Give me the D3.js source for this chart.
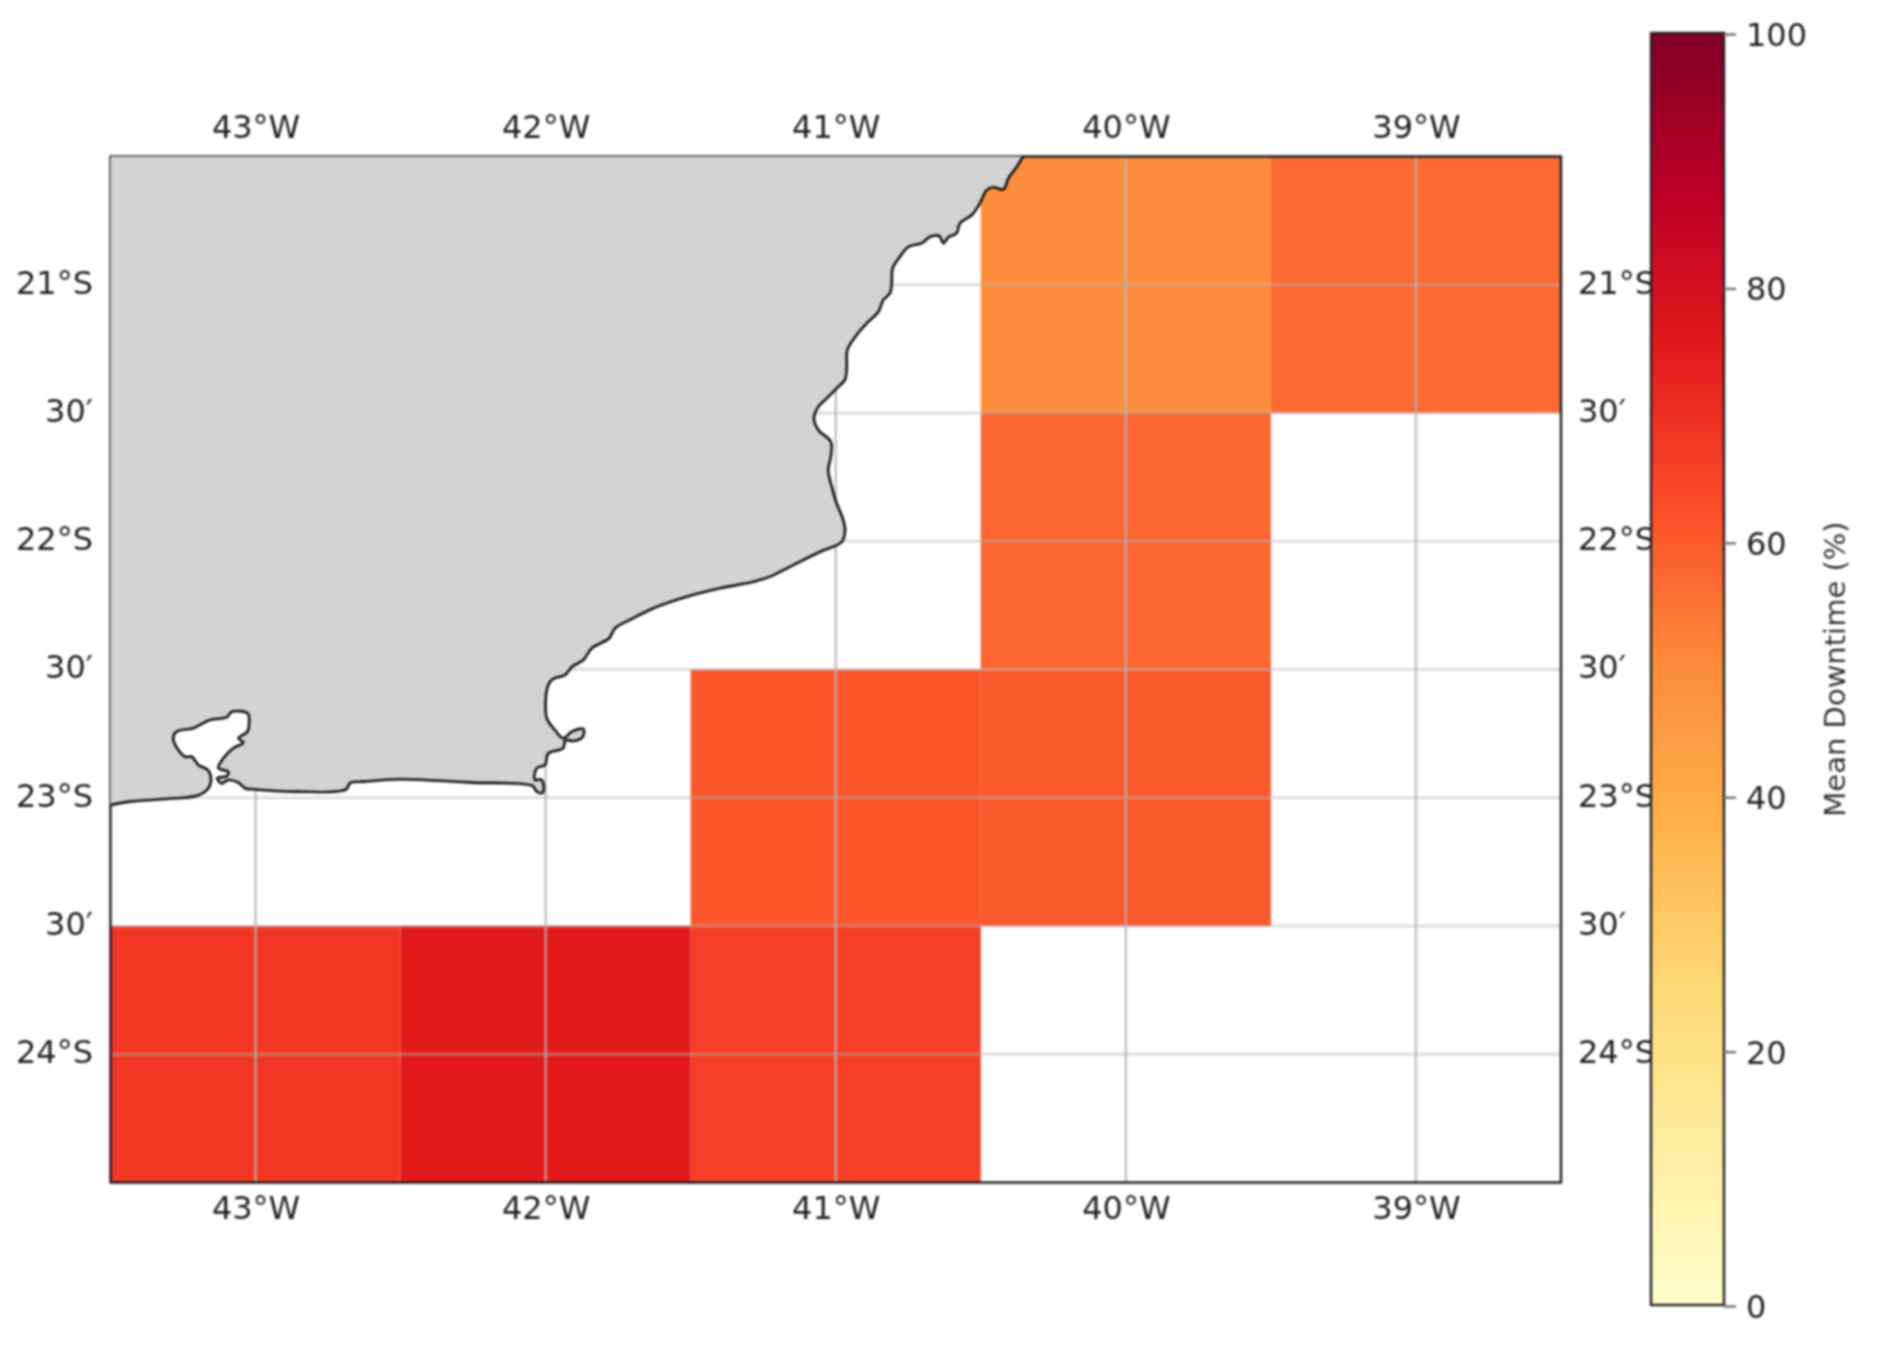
<!doctype html>
<html lang="en">

<head>
    <meta charset="utf-8">
    <title>Mean Downtime</title>
    <style>
        html, body {
            margin: 0;
            background-color: white;
        }

        svg {
            display: block;
            filter: blur(1px);
        }

        text {
            font-family: "DejaVu Sans", sans-serif;
            fill: #222;
        }
    </style>
</head>

<body>
    <svg width="1884" height="1354"></svg>

    <script src="https://d3js.org/d3.v7.min.js"></script>
    <script>
        // grid cells, 1 degree wide: west edge, north edge, mean downtime (%)
        var cellWest = [-40.5, -39.5, -40.5, -41.5, -40.5, -43.5, -42.5, -41.5];
        var cellNorth = [-20.5, -20.5, -21.5, -22.5, -22.5, -23.5, -23.5, -23.5];
        var cellValue = [49.5, 57, 58, 61, 60.5, 68, 75, 66];

        var lonTicks = [-43, -42, -41, -40, -39];
        var lonLabels = ["43°W", "42°W", "41°W", "40°W", "39°W"];
        var latTicks = [-21, -21.5, -22, -22.5, -23, -23.5, -24];
        var latLabels = ["21°S", "30′", "22°S", "30′", "23°S", "30′", "24°S"];
        var barTicks = [0, 20, 40, 60, 80, 100];

        // YlOrRd stops, evenly spaced over 0-100
        var ylOrRd = ["#ffffcc", "#ffeda0", "#fed976", "#feb24c", "#fd8d3c", "#fc4e2a", "#e31a1c", "#bd0026", "#800026"];

        // coastline from north to south-west
        var coastLon = [-40.354, -40.376, -40.405, -40.422, -40.457, -40.48, -40.503, -40.531, -40.572, -40.583,
            -40.612, -40.629, -40.643, -40.675, -40.704, -40.75, -40.779, -40.804, -40.807, -40.813,
            -40.836, -40.853, -40.893, -40.928, -40.96, -40.962, -40.968, -40.997, -41.031, -41.06,
            -41.075, -41.06, -41.017, -41.017, -41.026, -41.014, -40.997, -40.976, -40.968, -40.979,
            -41.054, -41.135, -41.227, -41.284, -41.399, -41.514, -41.629, -41.698, -41.761, -41.781,
            -41.841, -41.87, -41.91, -41.933, -41.975, -41.991, -42, -41.996, -41.968, -41.939,
            -41.91, -41.87, -41.872, -41.899, -41.933, -41.939, -41.991, -42.002, -42.031, -42.037,
            -42.017, -42.008, -42.01, -42.031, -42.045, -42.249, -42.364, -42.502, -42.629, -42.674,
            -42.688, -42.858, -43.008, -43.036, -43.059, -43.094, -43.117, -43.132, -43.099, -43.094,
            -43.128, -43.111, -43.077, -43.042, -43.059, -43.028, -43.022, -43.027, -43.082, -43.099,
            -43.157, -43.215, -43.272, -43.284, -43.266, -43.243, -43.22, -43.197, -43.163, -43.154,
            -43.168, -43.203, -43.329, -43.433, -43.5];
        var coastLat = [-20.5, -20.54, -20.585, -20.628, -20.62, -20.631, -20.682, -20.728, -20.76, -20.799,
            -20.815, -20.838, -20.81, -20.813, -20.838, -20.852, -20.891, -20.936, -20.994, -21.033,
            -21.059, -21.105, -21.15, -21.196, -21.254, -21.319, -21.369, -21.404, -21.443, -21.475,
            -21.521, -21.566, -21.612, -21.67, -21.722, -21.787, -21.852, -21.911, -21.956, -22.002,
            -22.041, -22.086, -22.138, -22.158, -22.183, -22.216, -22.261, -22.3, -22.339, -22.378,
            -22.417, -22.463, -22.49, -22.521, -22.537, -22.56, -22.619, -22.69, -22.736, -22.768,
            -22.742, -22.732, -22.762, -22.778, -22.778, -22.807, -22.827, -22.872, -22.885, -22.931,
            -22.928, -22.944, -22.98, -22.976, -22.954, -22.941, -22.934, -22.928, -22.937, -22.942,
            -22.967, -22.976, -22.967, -22.963, -22.941, -22.931, -22.944, -22.924, -22.915, -22.898,
            -22.885, -22.846, -22.807, -22.785, -22.768, -22.742, -22.703, -22.671, -22.665, -22.686,
            -22.697, -22.729, -22.742, -22.768, -22.814, -22.84, -22.84, -22.872, -22.894, -22.937,
            -22.97, -22.992, -23.006, -23.015, -23.028];

        var svg = d3.select("svg");

        var x = d3.scaleLinear().domain([-43.5, -38.5]).range([110.5, 1561]);
        var y = d3.scaleLinear().domain([-20.5, -24.5]).range([156.5, 1182.5]);
        var c = d3.scaleLinear().domain(ylOrRd.map(function(d, i) {
            return i * 12.5;
        })).range(ylOrRd);
        var bar = d3.scaleLinear().domain([0, 100]).range([1305, 33]);

        // cells
        svg.append("g")
            .selectAll("rect")
            .data(cellValue)
            .enter().append("rect")
            .attr("x", function(d, i) {
                return x(cellWest[i]);
            })
            .attr("y", function(d, i) {
                return y(cellNorth[i]);
            })
            .attr("width", x(-42.5) - x(-43.5))
            .attr("height", y(-21.5) - y(-20.5))
            .attr("fill", function(d) {
                return c(d);
            });

        // gridlines
        var grid = svg.append("g")
            .attr("stroke", "#b4b4b4");
        grid.selectAll("line.v")
            .data(lonTicks)
            .enter().append("line")
            .attr("class", "v")
            .attr("stroke-width", 2.5)
            .attr("stroke-opacity", 0.8)
            .attr("x1", function(d) {
                return x(d);
            })
            .attr("x2", function(d) {
                return x(d);
            })
            .attr("y1", y.range()[0])
            .attr("y2", y.range()[1]);
        grid.selectAll("line.h")
            .data(latTicks)
            .enter().append("line")
            .attr("class", "h")
            .attr("stroke-width", 3)
            .attr("stroke-opacity", 0.45)
            .attr("x1", x.range()[0])
            .attr("x2", x.range()[1])
            .attr("y1", function(d) {
                return y(d);
            })
            .attr("y2", function(d) {
                return y(d);
            });

        // map frame, the land sits over its inner half
        svg.append("rect")
            .attr("x", x.range()[0])
            .attr("y", y.range()[0])
            .attr("width", x.range()[1] - x.range()[0])
            .attr("height", y.range()[1] - y.range()[0])
            .attr("fill", "none")
            .attr("stroke", "#1a1a1a")
            .attr("stroke-width", 2.4);

        // land and coastline
        var coast = coastLon.map(function(d, i) {
            return [d, coastLat[i]];
        });
        var line = d3.line()
            .curve(d3.curveCatmullRom.alpha(0.5))
            .x(function(d) {
                return x(d[0]);
            })
            .y(function(d) {
                return y(d[1]);
            });
        var landEdge = d3.line()
            .curve(d3.curveLinearClosed)
            .x(function(d) {
                return x(d[0]);
            })
            .y(function(d) {
                return y(d[1]);
            });

        svg.append("path")
            .attr("d", landEdge(coast.concat([[-43.5, -20.5]])))
            .attr("fill", "#d3d3d3");

        svg.append("path")
            .attr("d", line(coast))
            .attr("fill", "none")
            .attr("stroke", "#111")
            .attr("stroke-width", 2.6)
            .attr("stroke-linejoin", "round");

        // tick labels on all four sides of the map
        function lonAxis(axis, py) {
            var g = svg.append("g")
                .attr("transform", "translate(0," + py + ")")
                .call(axis.scale(x).tickValues(lonTicks).tickSize(0).tickFormat(function(d, i) {
                    return lonLabels[i];
                }));
            g.select(".domain").remove();
            g.selectAll("text").attr("y", 0).attr("dy", "0.36em").style("font-size", "32px");
        }

        function latAxis(axis, px, dx) {
            var g = svg.append("g")
                .attr("transform", "translate(" + px + ",-2)")
                .call(axis.scale(y).tickValues(latTicks).tickSize(0).tickFormat(function(d, i) {
                    return latLabels[i];
                }));
            g.select(".domain").remove();
            g.selectAll("text").attr("x", dx).style("font-size", "32px");
        }

        lonAxis(d3.axisTop(), 126);
        lonAxis(d3.axisBottom(), 1207);
        latAxis(d3.axisLeft(), 93, 0);
        latAxis(d3.axisRight(), 1578, 0);

        // colorbar
        var gradient = svg.append("defs").append("linearGradient")
            .attr("id", "ylorrd")
            .attr("x1", 0)
            .attr("y1", 1)
            .attr("x2", 0)
            .attr("y2", 0);
        gradient.selectAll("stop")
            .data(ylOrRd)
            .enter().append("stop")
            .attr("offset", function(d, i) {
                return i / (ylOrRd.length - 1);
            })
            .attr("stop-color", function(d) {
                return d;
            });

        svg.append("rect")
            .attr("x", 1651)
            .attr("y", bar(100))
            .attr("width", 73)
            .attr("height", bar(0) - bar(100))
            .attr("fill", "url(#ylorrd)")
            .attr("stroke", "#222")
            .attr("stroke-width", 2.4);

        var barAxis = svg.append("g")
            .attr("transform", "translate(1724,1)")
            .call(d3.axisRight(bar).tickValues(barTicks).tickSize(12).tickPadding(10));
        barAxis.select(".domain").remove();
        barAxis.selectAll("line").attr("stroke", "#777").attr("stroke-width", 2.5);
        barAxis.selectAll("text").attr("dy", "0.36em").style("font-size", "32px");

        svg.append("text")
            .attr("transform", "translate(1835,669) rotate(-90)")
            .attr("text-anchor", "middle")
            .attr("dy", "0.36em")
            .style("font-size", "29px")
            .style("fill", "#333")
            .text("Mean Downtime (%)");
    </script>
</body>

</html>
